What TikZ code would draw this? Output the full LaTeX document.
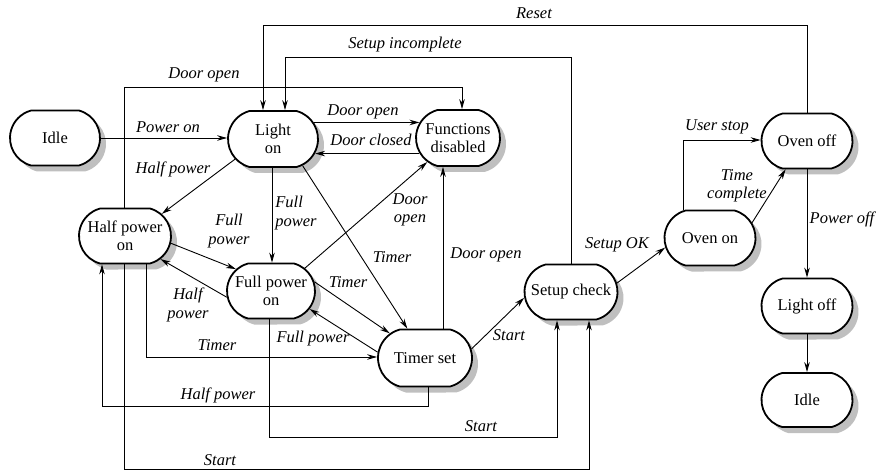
\documentclass[tikz,border=0pt]{standalone}
\usepackage{fontspec}
\setmainfont{Liberation Serif}
\usetikzlibrary{shapes.misc,shadows,arrows.meta}
\begin{document}
\begin{tikzpicture}[x=1pt,y=-1pt,
  state/.style={rounded rectangle, rounded rectangle arc length=150, draw, line width=1.8pt,
    fill=white, align=center, inner sep=0pt, minimum height=55pt, minimum width=90pt,
    font=\fontsize{16.5}{18.5}\selectfont,
    general shadow={shadow xshift=6pt, shadow yshift=-6pt, fill=gray!50}},
  lbl/.style={font=\fontsize{16.5}{18.5}\selectfont\itshape, align=center, inner sep=0pt},
  conn/.style={line width=0.9pt, -{Stealth[length=10pt,width=5.5pt]}}
]
\useasboundingbox (0,0) rectangle (882,470);

% states
\node[state] (idleA) at (55,138) {Idle};
\node[state, minimum height=56pt] (lighton) at (273,139) {Light\\on};
\node[state, minimum width=84pt, minimum height=56pt] (fd) at (458,138) {Functions\\disabled};
\node[state, minimum width=92pt] (hpon) at (125,236) {Half power\\on};
\node[state, minimum width=88pt] (fpon) at (271,291) {Full power\\on};
\node[state, minimum width=94pt, minimum height=57pt] (ts) at (425,358) {Timer set};
\node[state, minimum width=93pt] (sc) at (571,292) {Setup check};
\node[state, minimum width=91pt] (ovon) at (710,238) {Oven on};
\node[state, minimum width=91pt] (ovoff) at (807,141) {Oven off};
\node[state, minimum width=91pt] (loff) at (807,306) {Light off};
\node[state, minimum width=91pt, minimum height=54pt] (idleB) at (807,400) {Idle};

% bend points
\coordinate (rsR) at (807,25);
\coordinate (rsL) at (263,25);
\coordinate (siR) at (571,57);
\coordinate (siL) at (285,57);
\coordinate (doL) at (124,87);
\coordinate (doR) at (462,87);
\coordinate (hpA) at (102,406);
\coordinate (hpB) at (428,406);
\coordinate (stA) at (124,469);
\coordinate (stB) at (589,469);
\coordinate (tmA) at (146,357);
\coordinate (s2A) at (269,437);
\coordinate (s2B) at (557,437);
\coordinate (us) at (683,140);
\coordinate (xFP) at (272,0);
\coordinate (xTD) at (443,0);

% connectors
\draw[conn] (idleA.east) -- (idleA.east -| lighton.west);
\draw[conn] (doL |- hpon.north) -- (doL) -- (doR) -- (doR |- fd.north);
\draw[conn] (ovoff.north) -- (rsR) -- (rsL) -- (rsL |- lighton.north);
\draw[conn] (sc.north) -- (siR) -- (siL) -- (siL |- lighton.north);
\draw[conn] (lighton.22) -- (lighton.22 -| fd.158);
\draw[conn] (fd.202) -- (fd.202 -| lighton.341);
\draw[conn] (lighton.208) -- (hpon.31);
\draw[conn] (hpon.351) -- (fpon.148);
\draw[conn] (fpon.188) -- (hpon.327);
\draw[conn] (xFP |- lighton.south) -- (xFP |- fpon.north);
\draw[conn] (lighton.318) -- (ts.121);
\draw[conn] (fpon.34) -- (fd.218);
\draw[conn] (fpon.12) -- (ts.145);
\draw[conn] (ts.173) -- (fpon.335);
\draw[conn] (xTD |- ts.north) -- (xTD |- fd.south);
\draw[conn] (ts.11) -- (sc.187);
\draw[conn] (sc.11) -- (ovon.192);
\draw[conn] (us |- ovon.north) -- (us) -- (us -| ovoff.west);
\draw[conn] (ovon.20) -- (ovoff.233);
\draw[conn] (ovoff.south) -- (loff.north);
\draw[conn] (loff.south) -- (idleB.north);
\draw[conn] (hpB |- ts.south) -- (hpB) -- (hpA) -- (hpA |- hpon.south);
\draw[conn] (stA |- hpon.south) -- (stA) -- (stB) -- (stB |- sc.south);
\draw[conn] (tmA |- hpon.south) -- (tmA) -- (tmA -| ts.west);
\draw[conn] (s2A |- fpon.south) -- (s2A) -- (s2B) -- (s2B |- sc.south);

% labels
\node[lbl] (l1) at (534,13) {Reset};
\node[lbl] (l2) at (405,45) {Setup incomplete};
\node[lbl] (l3) at (204,75) {Door open};
\node[lbl] (l4) at (168,127) {Power on};
\node[lbl] (l5) at (363,112) {Door open};
\node[lbl] (l6) at (371,140) {Door closed};
\node[lbl] (l7) at (173,169) {Half power};
\node[lbl, align=left] (l8) at (296,213) {Full\\power};
\node[lbl] (l9) at (229,231) {Full\\power};
\node[lbl] (l10) at (188,305) {Half\\power};
\node[lbl] (l11) at (410,210) {Door\\open};
\node[lbl] (l12) at (392,257) {Timer};
\node[lbl] (l13) at (348,282) {Timer};
\node[lbl] (l14) at (486,255) {Door open};
\node[lbl] (l15) at (313,339) {Full power};
\node[lbl] (l16) at (217,345) {Timer};
\node[lbl] (l17) at (218,395) {Half power};
\node[lbl] (l18) at (481,426) {Start};
\node[lbl] (l19) at (220,460) {Start};
\node[lbl] (l20) at (509,335) {Start};
\node[lbl] (l21) at (617,245) {Setup OK};
\node[lbl] (l22) at (717,127) {User stop};
\node[lbl] (l23) at (737,186) {Time\\complete};
\node[lbl] (l24) at (842,219) {Power off};
\end{tikzpicture}
\end{document}
